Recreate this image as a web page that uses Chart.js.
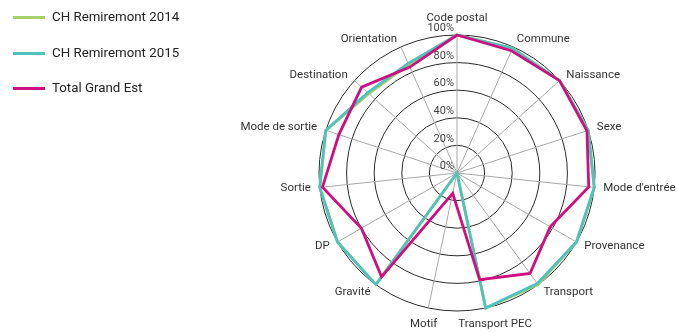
<!DOCTYPE html>
<html>
<head>
<meta charset="utf-8">
<script src="https://cdn.jsdelivr.net/npm/chart.js@4.4.0/dist/chart.umd.min.js"></script>
<style>
  html, body { margin: 0; padding: 0; background: #fff; }
  #wrap { position: relative; width: 677px; height: 332px; }
  #wrap canvas { position: absolute; left: 0; top: 0; }
  #legend { position: absolute; left: 13px; top: 0; font: 13.3px Roboto, sans-serif; color: #222; }
  .item { position: absolute; left: 0; height: 16px; line-height: 16px; white-space: nowrap; }
  .swatch { position: absolute; left: 0; top: 7px; width: 32px; height: 3px; }
  .txt { position: absolute; left: 39px; top: 0; }
</style>
</head>
<body>
<div id="wrap">
  <canvas id="radarChart" width="677" height="332"></canvas>
  <div id="legend"></div>
</div>
<script>
const axes = ['Code postal', 'Commune', 'Naissance', 'Sexe', "Mode d'entrée", 'Provenance', 'Transport',
  'Transport PEC', 'Motif', 'Gravité', 'DP', 'Sortie', 'Mode de sortie', 'Destination', 'Orientation'];
const remiremont2014 = [100, 99, 100, 100, 100, 100, 100, 100, 0, 100, 100, 100, 100, 86, 86];
const remiremont2015 = [100, 99, 100, 100, 100, 100, 99, 100, 0, 100, 100, 100, 100, 87, 87];
const grandEst = [100, 97, 100, 99, 96, 78, 90, 79, 15, 93, 80, 98, 90, 93, 84];
const seriesNames = ['CH Remiremont 2014', 'CH Remiremont 2015', 'Total Grand Est'];
const seriesColors = ['#a8d06a', '#4fc2bc', '#cf0f80'];
const tickValues = [0, 20, 40, 60, 80, 100];

// legend as plain html
const legend = document.getElementById('legend');
seriesNames.forEach(function (name, i) {
    const item = document.createElement('div');
    item.className = 'item';
    item.style.top = (9 + i * 35.6) + 'px';
    item.innerHTML = '<span class="swatch" style="background:' + seriesColors[i] + '"></span><span class="txt">' + name + '</span>';
    legend.appendChild(item);
});

// tick labels and axis names drawn by hand
const radarText = {
    id: 'radarText',
    afterDraw(chart) {
        const scale = chart.scales.r;
        const ctx = chart.ctx;
        ctx.save();
        ctx.font = '11px Roboto, sans-serif';
        ctx.fillStyle = '#444';
        ctx.textAlign = 'right';
        ctx.textBaseline = 'middle';
        tickValues.forEach(function (v) {
            const d = scale.getDistanceFromCenterForValue(v);
            ctx.fillText(v + '%', scale.xCenter - 3, scale.yCenter - d - 6.5);
        });

        ctx.font = '11.5px Roboto, sans-serif';
        ctx.fillStyle = '#333';
        axes.forEach(function (label, i) {
            const p = scale.getPointPosition(i, scale.drawingArea + 9);
            const a = scale.getIndexAngle(i);
            const s = Math.sin(a), c = Math.cos(a);
            if (Math.abs(s) < 0.3) {
                const w = ctx.measureText(label).width;
                ctx.textAlign = 'center';
                ctx.fillText(label, p.x + s * w / 2, p.y - c * 8);
            } else {
                ctx.textAlign = s > 0 ? 'left' : 'right';
                ctx.fillText(label, p.x, p.y);
            }
        });
        ctx.restore();
    }
};

const seriesData = [remiremont2014, remiremont2015, grandEst];

new Chart(document.getElementById('radarChart'), {
    type: 'radar',
    data: {
        labels: axes,
        datasets: seriesNames.map(function (name, i) {
            return {
                label: name,
                data: seriesData[i],
                borderColor: seriesColors[i],
                backgroundColor: seriesColors[i],
                fill: false,
                order: 3 - i
            };
        })
    },
    options: {
        responsive: false,
        animation: false,
        layout: { padding: { left: 237, right: 0, top: 35, bottom: 20 } },
        elements: {
            line: { borderWidth: 2.8, tension: 0 },
            point: { radius: 0, hoverRadius: 0 }
        },
        plugins: {
            legend: { display: false },
            tooltip: { enabled: false }
        },
        scales: {
            r: {
                min: 0,
                max: 100,
                beginAtZero: true,
                ticks: { display: false, stepSize: 20 },
                grid: { circular: true, color: '#2a2a2a', lineWidth: 1 },
                angleLines: { color: '#a8a8a8', lineWidth: 1 },
                pointLabels: { display: false }
            }
        }
    },
    plugins: [radarText]
});
</script>
</body>
</html>
